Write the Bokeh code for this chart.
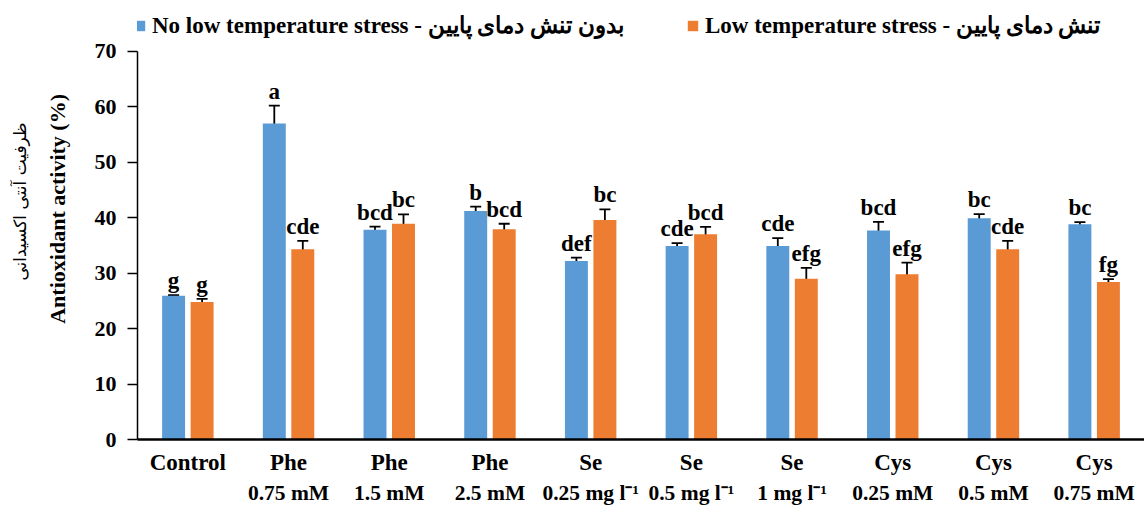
from bokeh.plotting import figure
from bokeh.models import (ColumnDataSource, FactorRange, Range1d, Whisker, TeeHead, Legend,
                          LegendItem, CategoricalAxis, Title, LabelSet, FixedTicker)
from bokeh.transform import dodge
from bokeh.embed import file_html
from bokeh.resources import INLINE

# ---- data ----
treat_name = ["Control", "Phe", "Phe", "Phe", "Se", "Se", "Se", "Cys", "Cys", "Cys"]
treat_dose = ["", "0.75 mM", "1.5 mM", "2.5 mM", "0.25 mg l\u207b\u00b9", "0.5 mg l\u207b\u00b9",
              "1 mg l\u207b\u00b9", "0.25 mM", "0.5 mM", "0.75 mM"]
no_stress = [25.9, 57.0, 37.8, 41.2, 32.2, 34.9, 34.9, 37.7, 39.9, 38.8]
no_stress_err = [0.15, 3.2, 0.6, 0.8, 0.6, 0.5, 1.4, 1.55, 0.75, 0.4]
stress = [24.8, 34.3, 38.9, 37.9, 39.6, 37.0, 29.0, 29.8, 34.3, 28.4]
stress_err = [0.55, 1.5, 1.7, 1.0, 1.9, 1.35, 1.95, 2.1, 1.5, 0.5]
no_stress_letters = ["g", "a", "bcd", "b", "def", "cde", "cde", "bcd", "bc", "bc"]
stress_letters = ["g", "cde", "bc", "bcd", "bc", "bcd", "efg", "efg", "cde", "fg"]
legend_no = "No low temperature stress - \u0628\u062f\u0648\u0646 \u062a\u0646\u0634 \u062f\u0645\u0627\u06cc \u067e\u0627\u06cc\u06cc\u0646"
legend_yes = "Low temperature stress - \u062a\u0646\u0634 \u062f\u0645\u0627\u06cc \u067e\u0627\u06cc\u06cc\u0646"
y_label_en = "Antioxidant activity  (%)"
y_label_fa = "\u0638\u0631\u0641\u06cc\u062a \u0622\u0646\u062a\u06cc \u0627\u06a9\u0633\u06cc\u062f\u0627\u0646\u06cc"
y_ticks = [0, 10, 20, 30, 40, 50, 60, 70]
y_max = 70

BLUE = "#5B9BD5"
ORANGE = "#ED7D31"
FONT = "Liberation Serif"


def uniq(labels):
    # make repeated tick labels distinct factors with invisible zero-width spaces
    seen, out = {}, []
    for lab in labels:
        n = seen.get(lab, 0)
        out.append(lab + "\u200b" * n)
        seen[lab] = n + 1
    return out


keys = uniq(treat_name)
dose_keys = uniq([d if d else " " for d in treat_dose])

src = ColumnDataSource(dict(
    key=keys,
    ns=no_stress,
    ns_up=[v + e for v, e in zip(no_stress, no_stress_err)],
    ns_lo=[v - e for v, e in zip(no_stress, no_stress_err)],
    ns_lab=no_stress_letters,
    st=stress,
    st_up=[v + e for v, e in zip(stress, stress_err)],
    st_lo=[v - e for v, e in zip(stress, stress_err)],
    st_lab=stress_letters,
))

# frame spans page y 5..441; value 70 sits at y=51 (390 px for 70 units)
FRAME_TOP, AXIS_TOP, AXIS_BOTTOM = 5, 51, 441
y_end = y_max * (AXIS_BOTTOM - FRAME_TOP) / (AXIS_BOTTOM - AXIS_TOP)

p = figure(width=1144, height=507,
           x_range=FactorRange(factors=keys, range_padding=0, factor_padding=0),
           y_range=Range1d(0, y_end), output_backend="svg", toolbar_location=None,
           min_border_left=137, min_border_right=0, min_border_top=FRAME_TOP,
           min_border_bottom=507 - AXIS_BOTTOM)
p.extra_x_ranges = {"dose": FactorRange(factors=dose_keys, range_padding=0, factor_padding=0)}
p.outline_line_color = None
p.xgrid.grid_line_color = None
p.ygrid.grid_line_color = None

off = 0.1415
bw = 0.228
r1 = p.vbar(x=dodge("key", -off, range=p.x_range), top="ns", width=bw, source=src,
            fill_color=BLUE, line_color=None)
r2 = p.vbar(x=dodge("key", off, range=p.x_range), top="st", width=bw, source=src,
            fill_color=ORANGE, line_color=None)

for d, up, lo in [(-off, "ns_up", "ns_lo"), (off, "st_up", "st_lo")]:
    w = Whisker(base=dodge("key", d, range=p.x_range), upper=up, lower=lo, source=src,
                line_color="black", line_width=1.8,
                upper_head=TeeHead(size=11, line_width=1.8, line_color="black"),
                lower_head=TeeHead(size=11, line_width=1.8, line_color="black"))
    p.add_layout(w)

for d, up, lab in [(-off, "ns_up", "ns_lab"), (off, "st_up", "st_lab")]:
    ls = LabelSet(x=dodge("key", d, range=p.x_range), y=up, text=lab, source=src,
                  y_offset=7, text_align="center", text_baseline="alphabetic",
                  text_font=FONT, text_font_size="23px", text_font_style="bold",
                  text_color="black")
    p.add_layout(ls)

# y axis, drawn only from 0 to 70
ya = p.yaxis[0]
ya.bounds = (0, y_max)
ya.ticker = FixedTicker(ticks=y_ticks)
ya.minor_tick_line_color = None
ya.major_tick_in = 0
ya.major_tick_out = 10
ya.major_tick_line_width = 1.5
ya.axis_line_width = 1.5
ya.axis_line_color = "black"
ya.major_tick_line_color = "black"
ya.major_label_standoff = 11
ya.major_label_text_font = FONT
ya.major_label_text_font_size = "22px"
ya.major_label_text_font_style = "bold"
ya.major_label_text_color = "black"

p.add_layout(Title(text=y_label_en, align="right", offset=83, text_font=FONT,
                   text_font_size="22px", text_font_style="bold", text_color="black",
                   standoff=44), "left")
p.add_layout(Title(text=y_label_fa, align="right", offset=117, text_font="DejaVu Sans",
                   text_font_size="17px", text_font_style="normal", text_color="black",
                   standoff=-18), "left")

# x axis (two lines of labels)
xa = p.xaxis[0]
xa.axis_line_width = 2.4
xa.axis_line_color = "black"
xa.major_tick_in = 0
xa.major_tick_out = 0
xa.major_label_standoff = 10
xa.major_label_text_font = FONT
xa.major_label_text_font_size = "23px"
xa.major_label_text_font_style = "bold"
xa.major_label_text_color = "black"

xa2 = CategoricalAxis(x_range_name="dose", axis_line_color=None, major_tick_in=0, major_tick_out=0,
                      major_label_standoff=3, major_label_text_font=FONT,
                      major_label_text_font_size="21.5px", major_label_text_font_style="bold",
                      major_label_text_color="black")
p.add_layout(xa2, "below")

legend = Legend(items=[LegendItem(label=legend_no, renderers=[r1]),
                       LegendItem(label=legend_yes, renderers=[r2])],
                orientation="horizontal", location=(-4, 400), margin=0, padding=0,
                spacing=62, glyph_width=13, glyph_height=13, label_standoff=6,
                label_text_font=FONT, label_text_font_size="23px", label_text_font_style="bold",
                label_text_color="black", border_line_color=None, background_fill_alpha=0)
p.add_layout(legend)

open("out.html", "w").write(file_html(p, INLINE))
